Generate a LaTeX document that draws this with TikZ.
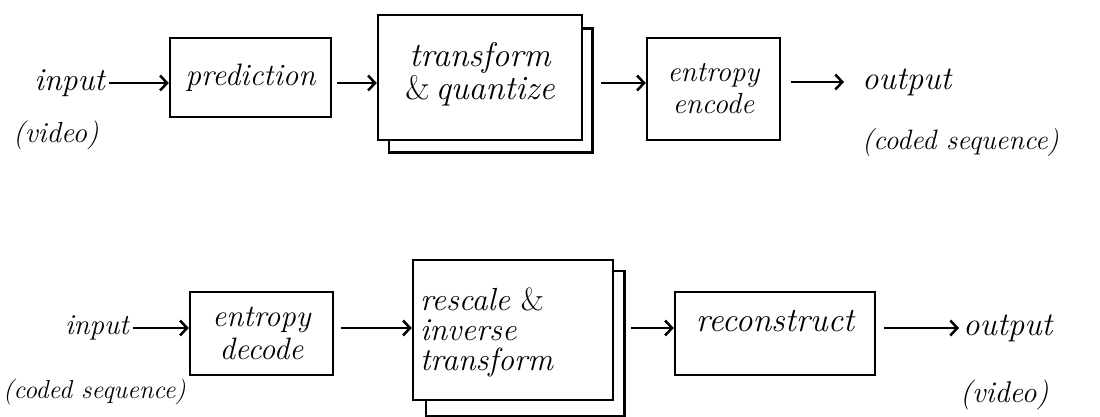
\documentclass[tikz,border=0pt]{standalone}
\usepackage{fontspec}
\setmainfont{Latin Modern Roman}
\usetikzlibrary{arrows.meta}
\newcommand{\hf}[2]{\fontsize{#1}{#2}\selectfont\itshape}
\begin{document}
\begin{tikzpicture}[x=1pt,y=-1pt,
  lw/.style={line width=2.5pt},
  hand/.style={font=\hf{31}{33}},
  txt/.style={hand,inner sep=4pt},
  box/.style={draw,lw,hand,inner sep=0pt,align=center,minimum width=#1},
  arr/.style={lw,-{Straight Barb[length=7pt,width=15pt]}},
  shadow/.style={lw}
]
\useasboundingbox (0,0) rectangle (1100,417);

% ---- top row: encoder ----
\node[txt,anchor=east,font=\hf{32}{33}] (inp1) at (109,83) {input};
\node[txt,anchor=west,font=\hf{29}{30}] (vid1) at (9,135) {(video)};
\node[box=161pt,minimum height=79pt] (pred) at (250.5,77.5) {prediction};
\node[box=204pt,minimum height=125pt,font=\hf{34}{33}] (tq) at (480,77.5) {transform\\\textup{\&}\,quantize\\[-20pt]};
\node[box=133pt,minimum height=102pt,font=\hf{29}{32}] (enc) at (713.5,89) {entropy\\encode};
\node[txt,anchor=west,font=\hf{33}{33}] (out1) at (858,82) {output};
\node[txt,anchor=west,font=\hf{28}{30}] (seq1) at (858,143) {(coded sequence)};

\draw[shadow] ([xshift=12pt]tq.south west) -- ++(0,11)
  -- ([xshift=9pt,yshift=-11pt]tq.south east)
  -- ([xshift=9pt,yshift=-15pt]tq.north east)
  -- ([yshift=-15pt]tq.north east);

\draw[arr] (inp1.east) -- (inp1.east -| pred.west);
\draw[arr] ([xshift=5pt,yshift=-5.5pt]pred.east) -- ([yshift=-5.5pt]pred.east -| tq.west);
\draw[arr] ([xshift=18pt,yshift=-5.5pt]tq.east) -- ([yshift=-5.5pt]tq.east -| enc.west);
\draw[arr,shorten >=14pt] ([xshift=10pt]enc.east |- out1.west) -- (out1.west);

% ---- bottom row: decoder ----
\node[txt,anchor=east,font=\hf{29}{33}] (inp2) at (133,328) {input};
\node[txt,anchor=west,font=\hf{26}{30}] (seq2) at (-1,392) {(coded sequence)};
\node[box=143pt,minimum height=83pt,font=\hf{31}{33}] (dec) at (261.5,333.5) {entropy\\decode};
\node[box=200pt,minimum height=140pt,font=\hf{32}{30},align=left,text width=186pt] (ri) at (513,330) {\\[-2pt]rescale \textup{\&}\\inverse\\transform};
\node[box=200pt,minimum height=83pt,label={[font=\hf{34}{33},yshift=12pt]center:reconstruct}] (rec) at (775,333.5) {};
\node[txt,anchor=west,font=\hf{33}{33}] (out2) at (959,328) {output};
\node[txt,anchor=west,font=\hf{30}{30}] (vid2) at (956,395) {(video)};

\draw[shadow] ([xshift=14pt]ri.south west) -- ++(0,15)
  -- ([xshift=10pt,yshift=-15pt]ri.south east)
  -- ([xshift=10pt,yshift=-12pt]ri.north east)
  -- ([yshift=-12pt]ri.north east);

\draw[arr] (inp2.east) -- (inp2.east -| dec.west);
\draw[arr] ([xshift=7pt,yshift=5.5pt]dec.east) -- ([yshift=5.5pt]dec.east -| ri.west);
\draw[arr] ([xshift=17pt,yshift=2pt]ri.east) -- ([yshift=2pt]ri.east -| rec.west);
\draw[arr] ([xshift=8pt]rec.east |- out2.west) -- (out2.west);
\end{tikzpicture}
\end{document}
